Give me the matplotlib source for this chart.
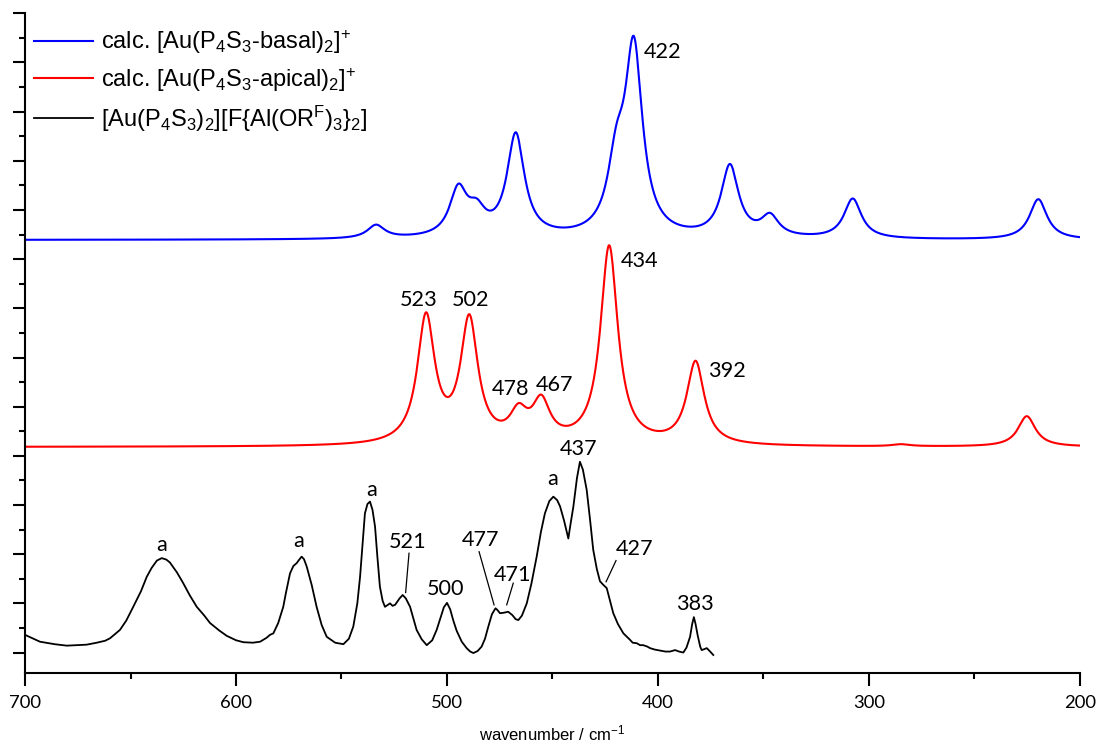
import numpy as np
import matplotlib
matplotlib.use("Agg")
import matplotlib.pyplot as plt
from matplotlib.ticker import MultipleLocator, NullFormatter

# ---- calculated band lists (unscaled frequencies / cm-1, relative intensities) ----
basal_bands = [547.3, 507.3, 498.4, 479.4, 430.4, 422.0, 375.3, 355.8, 315.6, 225.4]
basal_int = [0.27, 0.94, 0.44, 2.08, 1.30, 3.75, 1.45, 0.41, 0.81, 0.82]

apical_bands = [523.0, 502.0, 478.0, 467.0, 434.0, 392.0, 292.0, 231.0]
apical_int = [2.57, 2.49, 0.55, 0.79, 4.03, 1.68, 0.04, 0.62]

freq_scale = 0.975      # scaling factor applied to the calculated frequencies
hwhm = 5.0              # Lorentzian half width / cm-1
basal_offset = 8.39
apical_offset = 4.18

# ---- measured spectrum ----
exp_wn = [700, 696, 692.9, 686, 680.2, 675, 670.8, 666, 662, 659.7, 655, 652, 648.7,
          645, 642.3, 640, 637.5, 635.2, 633, 631.3, 628, 625, 622, 618.6, 615, 612.3,
          608, 604.4, 600, 596.5, 592, 588.6, 585.5, 583.9, 582.3, 580, 577.6, 576.4,
          574.4, 572.8, 571.2, 570.2, 568.9, 567.8, 566.5, 564.1, 561.8, 559.4, 557,
          553, 549.1, 546.5, 544.4, 542.5, 541.2, 540, 538.9, 537.7, 536.5, 535.3,
          534.1, 533, 531.8, 530.5, 529.4, 527, 525.8, 524.6, 522.5, 521, 519.5,
          517.5, 516, 514.4, 512, 509.6, 507, 504.9, 503, 501.5, 500, 498.5, 497,
          495.4, 493, 490.7, 489, 487.5, 485.5, 483.6, 482, 480.4, 478.7, 477, 476,
          474.9, 473, 471, 469, 467.5, 466.2, 464.5, 462.2, 460, 457.5, 455.5, 453.6,
          451.5, 449.6, 447.8, 446.4, 444.5, 442.5, 441.5, 440.1, 438.4, 437, 435.6,
          433.8, 432.2, 430.7, 429, 427.5, 426, 424.3, 422.7, 421.2, 419, 416.4,
          413.3, 412, 410.1, 408.5, 407, 405, 403.8, 401.5, 399.1, 396.5, 394.3,
          391.9, 390, 388, 386.5, 384.8, 383.8, 383, 382.2, 381.2, 380, 379.3, 378,
          376.9, 375.5, 373.8]
exp_int = [0.36, 0.28, 0.22, 0.17, 0.14, 0.15, 0.16, 0.20, 0.24, 0.29, 0.46, 0.65, 0.93,
           1.25, 1.54, 1.72, 1.87, 1.92, 1.89, 1.83, 1.63, 1.41, 1.17, 0.93, 0.75, 0.60,
           0.45, 0.34, 0.25, 0.21, 0.20, 0.22, 0.30, 0.36, 0.39, 0.60, 0.93, 1.20,
           1.61, 1.76, 1.82, 1.88, 1.95, 1.90, 1.75, 1.37, 0.93, 0.56, 0.32,
           0.20, 0.17, 0.28, 0.53, 1.00, 1.54, 2.20, 2.83, 3.02, 3.07, 2.90,
           2.56, 1.95, 1.34, 1.05, 0.93, 1.00, 0.95, 0.97, 1.10, 1.17, 1.10,
           0.93, 0.70, 0.46, 0.27, 0.15, 0.25, 0.46, 0.72, 0.92, 1.01, 0.88, 0.65,
           0.44, 0.22, 0.09, 0.02, -0.01, 0.03, 0.12, 0.28, 0.53, 0.78, 0.90, 0.86,
           0.80, 0.81, 0.83, 0.76, 0.68, 0.66, 0.75, 1.00, 1.40, 1.95, 2.45, 2.83,
           3.08, 3.17, 3.10, 2.97, 2.68, 2.32, 2.60, 2.97, 3.55, 3.88, 3.72,
           3.31, 2.70, 2.09, 1.70, 1.45, 1.38, 1.31, 1.05, 0.80, 0.58, 0.39,
           0.26, 0.20, 0.19, 0.15, 0.15, 0.12, 0.09, 0.06, 0.04, 0.02, 0.02,
           0.05, 0.02, 0.00, 0.10, 0.32, 0.58, 0.72, 0.58, 0.35, 0.12, 0.05, 0.07,
           0.09, 0.03, -0.05]

labels = [r"calc. [Au(P$_4$S$_3$-basal)$_2]^{\!+}$",
          r"calc. [Au(P$_4$S$_3$-apical)$_2]^{\!+}$",
          r"[Au(P$_4$S$_3$)$_2$][F{Al(OR$^\mathrm{F}$)$_3$}$_2$]"]


def broaden(bands, heights, x):
    y = np.zeros_like(x)
    for p, h in zip(bands, heights):
        c = p * freq_scale
        y += h * hwhm**2 / ((x - c) ** 2 + hwhm**2)
    return y


plt.rcParams.update({
    "mathtext.fontset": "custom",
    "mathtext.rm": "Liberation Sans",
    "mathtext.it": "Liberation Sans:italic",
    "mathtext.bf": "Liberation Sans:bold",
})

fig = plt.figure(figsize=(10.97, 7.46), dpi=100)
ax = fig.add_axes([0.02279, 0.09826, 0.98450 - 0.02279, 0.98217 - 0.09826])

x = np.linspace(200, 700, 3001)
ax.plot(x, basal_offset + broaden(basal_bands, basal_int, x), color="#0000ff", lw=1.5,
        label=labels[0])
ax.plot(x, apical_offset + broaden(apical_bands, apical_int, x), color="#ff0000", lw=1.5,
        label=labels[1])
ax.plot(exp_wn, exp_int, color="black", lw=1.3, label=labels[2])

ax.set_xlim(700, 200)
ax.set_ylim(-0.41, 13)

for s in ("top", "right"):
    ax.spines[s].set_visible(False)
for s in ("left", "bottom"):
    ax.spines[s].set_linewidth(1.5)

ax.xaxis.set_major_locator(MultipleLocator(100))
ax.xaxis.set_minor_locator(MultipleLocator(50))
ax.yaxis.set_major_locator(MultipleLocator(1))
ax.yaxis.set_minor_locator(MultipleLocator(0.5))
ax.yaxis.set_major_formatter(NullFormatter())
ax.tick_params(axis="x", which="major", direction="out", length=9, width=1.5, pad=7,
               labelsize=13.3)
ax.tick_params(axis="x", which="minor", direction="out", length=4.5, width=1.5)
ax.tick_params(axis="y", which="major", direction="out", length=8.5, width=1.5)
ax.tick_params(axis="y", which="minor", direction="out", length=4, width=1.5)
for t in ax.get_xticklabels():
    t.set_fontfamily("Lato")

ax.set_xlabel(r"wavenumber / cm$^{-1}$", fontsize=12, family="Liberation Sans",
              labelpad=9)

leg = ax.legend(loc="upper left", frameon=False,
                prop={"family": "Liberation Sans", "size": 17},
                handlelength=2.5, handletextpad=0.3, labelspacing=0.42,
                borderaxespad=0.0, bbox_to_anchor=(0.0, 0.992))

# peak annotations
num_font = dict(family="Lato", fontsize=15.6, ha="center", va="baseline")
peak_text = [
    (398.0, 12.10, "422"),
    (513.6, 7.05, "523"), (488.6, 7.05, "502"), (470.0, 5.24, "478"),
    (449.1, 5.32, "467"), (408.7, 7.84, "434"), (367.2, 5.60, "392"),
    (635.4, 2.07, "a"), (570.5, 2.14, "a"), (535.5, 3.18, "a"), (518.6, 2.12, "521"),
    (500.9, 1.17, "500"), (483.9, 2.17, "477"), (468.7, 1.46, "471"),
    (449.9, 3.41, "a"), (437.4, 4.02, "437"), (411.2, 1.98, "427"), (382.6, 0.87, "383"),
]
for px, py, s in peak_text:
    ax.text(px, py, s, **num_font)

leaders = [((518.0, 2.02), (519.6, 1.22)),
           ((484.8, 2.05), (477.7, 0.97)),
           ((468.6, 1.41), (471.7, 0.97)),
           ((419.9, 1.87), (424.6, 1.44))]
for (x0, y0), (x1, y1) in leaders:
    ax.plot([x0, x1], [y0, y1], color="black", lw=0.9)

fig.savefig("out.png", dpi=100)
